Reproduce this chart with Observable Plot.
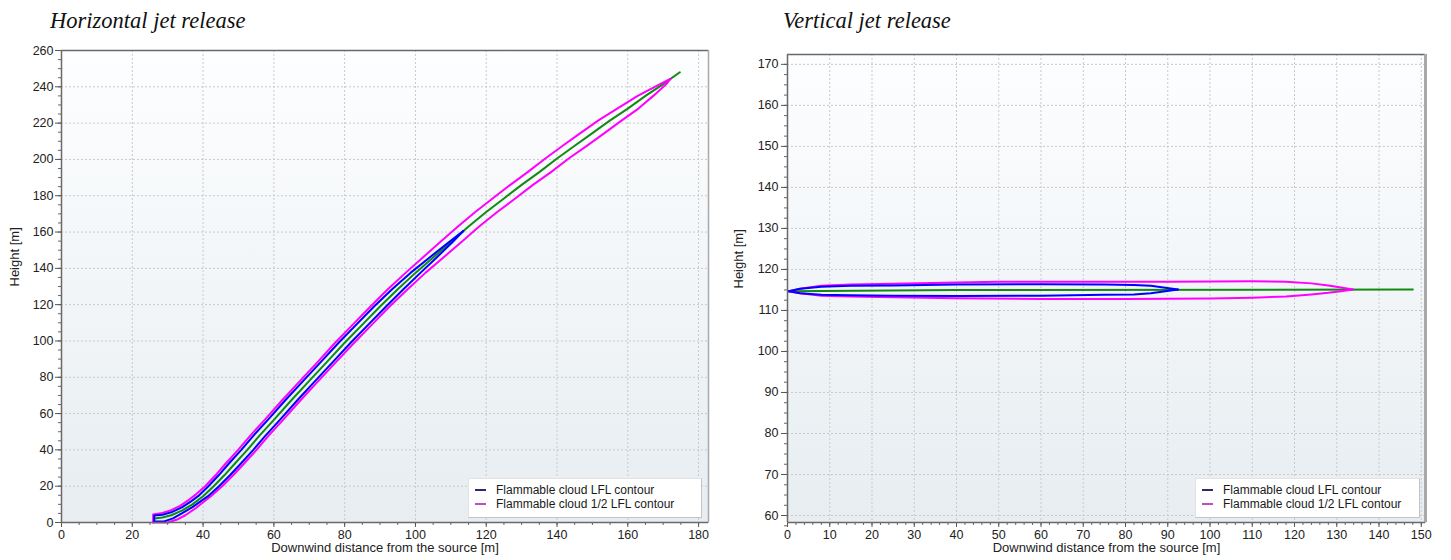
<!DOCTYPE html>
<html><head><meta charset="utf-8">
<script src="https://cdn.jsdelivr.net/npm/d3@7"></script>
<script src="https://cdn.jsdelivr.net/npm/@observablehq/plot@0.6"></script>
<style>
html,body{margin:0;padding:0;background:#fff;}
#root{position:relative;width:1451px;height:560px;overflow:hidden;font-family:"Liberation Sans",Arial,sans-serif;}
.title{position:absolute;font-family:"Liberation Serif","Times New Roman",serif;font-style:italic;font-size:22.5px;line-height:22px;color:#111;white-space:nowrap;}
.chart{position:absolute;top:0;}
.legend{position:absolute;background:#fff;border:1px solid #e2e2e2;border-right-color:#c4c4c4;border-bottom-color:#c4c4c4;font-size:12px;color:#1a1a1a;box-sizing:border-box;padding:4px 0 0 6px;}
.legend .row{height:14px;line-height:14px;display:flex;align-items:center;white-space:nowrap;}
.legend .sw{display:inline-block;width:11px;height:2px;margin-right:10px;}
</style></head>
<body><div id="root"></div>
<script>
// ---------- titles / labels ----------
const titles = ["Horizontal jet release", "Vertical jet release"];
const xLabel = "Downwind distance from the source [m]";
const yLabel = "Height [m]";
const legendLabels = ["Flammable cloud LFL contour", "Flammable cloud 1/2 LFL contour"];

// ---------- ticks ----------
const hXTicks = [0,20,40,60,80,100,120,140,160,180];
const hYTicks = [0,20,40,60,80,100,120,140,160,180,200,220,240,260];
const hXMinor = d3.range(0, 181, 5);
const hYMinor = d3.range(0, 261, 5);
const vXTicks = [0,10,20,30,40,50,60,70,80,90,100,110,120,130,140,150];
const vYTicks = [60,70,80,90,100,110,120,130,140,150,160,170];
const vXMinor = d3.range(0, 151, 2);
const vYMinor = d3.range(57.5, 172.5, 2.5);

// ---------- horizontal jet release (left) ----------
const hGreen = [[26.3,2.2],[28.5,2.8],[31,4],[34,6.5],[37,10],[40,14.5],[43,20],[46,26],[49,32.5],[52.5,40],[56,48],[60,56.5],[65,67.5],[70,78],[75,88.5],[80,99],[85,109],[90,119],[95,128.5],[100,137.5],[105,146],[110,154.5],[115,163],[120,171],[125,178.5],[130,186],[135,193],[140,200.5],[145,207.5],[150,214.5],[155,221.5],[160,228],[165,235],[170,241.5],[174.7,248]];
const hPinkUpper = [[25.9,0],[25.9,4.4],[28.5,5.3],[31,6.8],[33.5,9.2],[36,12.5],[38,15.5],[40.6,20],[43.5,26],[46.4,32.5],[49.9,40],[53.4,48],[57.4,56.5],[62.4,67.5],[67.4,78],[72.4,88.5],[77.3,99],[82.3,109],[87.3,119],[92.2,128.5],[97.2,137.5],[102.1,146],[107,154.5],[112,163],[116.9,171],[121.8,178.5],[126.8,186],[131.7,193],[136.7,200.5],[141.6,207.5],[146.6,214.5],[151.7,221.5],[157,228],[162.8,235],[169.1,241.5],[172,244.3]];
const hPinkLower = [[25.9,0],[30,0],[32.5,1.5],[35,4],[38,8],[42.2,14.5],[45.4,20],[48.5,26],[51.6,32.5],[55.1,40],[58.6,48],[62.6,56.5],[67.6,67.5],[72.6,78],[77.6,88.5],[82.7,99],[87.7,109],[92.7,119],[97.8,128.5],[102.8,137.5],[107.9,146],[113,154.5],[118,163],[123.1,171],[128.2,178.5],[133.2,186],[138.3,193],[143.3,200.5],[148.4,207.5],[153.4,214.5],[158.3,221.5],[163,228],[167.2,235],[170.9,241.5],[172,244.3]];
const hBlueUpper = [[26.2,0.5],[26.2,3.8],[28.5,4.3],[31,5.6],[34,8.3],[36.5,11.5],[38.6,14.5],[41.5,20],[44.4,26],[47.3,32.5],[50.8,40],[54.3,48],[58.3,56.5],[63.3,67.5],[68.3,78],[73.3,88.5],[78.3,99],[83.3,109],[88.3,119],[93.4,128.5],[98.6,137.5],[104,146],[109.5,154.5],[113.5,160.5]];
const hBlueLower = [[26.2,0.5],[29,0.6],[31.5,2.3],[34,5],[37,8.5],[41.4,14.5],[44.5,20],[47.6,26],[50.7,32.5],[54.2,40],[57.7,48],[61.7,56.5],[66.7,67.5],[71.7,78],[76.7,88.5],[81.7,99],[86.7,109],[91.7,119],[96.6,128.5],[101.4,137.5],[106,146],[110.5,154.5],[113.5,160.5]];

// ---------- vertical jet release (right) ----------
const vGreen = [[0.3,114.7],[40,115],[148,115.1]];
const vPinkUpper = [[0.3,114.7],[3,115.3],[8,116],[15,116.3],[25,116.5],[40,116.8],[50,117],[70,117],[90,117],[110,117.1],[118,117],[124,116.6],[128,116.1],[131,115.6],[133.8,115.1]];
const vPinkLower = [[0.3,114.7],[3,114.2],[8,113.6],[15,113.4],[25,113.2],[40,113],[60,112.8],[80,112.8],[100,112.9],[110,113.1],[118,113.4],[124,113.9],[128,114.3],[131,114.7],[133.8,115.1]];
const vBlueUpper = [[0.3,114.7],[3,115.3],[8,115.8],[15,116],[25,116.1],[40,116.3],[60,116.4],[75,116.3],[82,116.2],[86,116],[89,115.6],[92.4,115.1]];
const vBlueLower = [[0.3,114.7],[3,114.2],[8,113.8],[15,113.7],[25,113.6],[40,113.5],[60,113.6],[75,113.8],[82,113.9],[86,114.2],[89,114.6],[92.4,115.1]];

const C = {pink:"#ff00ff", blue:"#0000ff", green:"#118a11", swLFL:"#2b2b6b", swHalf:"#c04ec0"};

function lineMark(data, stroke){
  return Plot.line(data, {x: d => d[0], y: d => d[1], stroke, strokeWidth: 2, strokeLinejoin:"round"});
}

function makeChart(cfg){
  const svg = Plot.plot({
    width: cfg.width, height: 560,
    marginTop: cfg.mt, marginBottom: 38, marginLeft: cfg.ml, marginRight: cfg.mr,
    style: {fontFamily: '"Liberation Sans", Arial, sans-serif', fontSize: "12px", color: "#222", background: "transparent", overflow:"visible"},
    x: {domain: cfg.xDomain},
    y: {domain: cfg.yDomain},
    marks: [
      Plot.gridX(cfg.xTicks, {stroke: "#c9c9c9", strokeOpacity: 1, strokeDasharray: "2,2"}),
      Plot.gridY(cfg.yTicks, {stroke: "#c9c9c9", strokeOpacity: 1, strokeDasharray: "2,2"}),
      Plot.axisX(cfg.xMinor, {tickSize: 3, tickFormat: () => "", stroke: "#666", label: null}),
      Plot.axisY(cfg.yMinor, {tickSize: 3, tickFormat: () => "", stroke: "#666", label: null}),
      Plot.axisX(cfg.xTicks, {tickSize: 5, tickPadding: 3, stroke: "#555", fill: "#222", fontSize: 12.5, label: null, tickFormat: d => String(d)}),
      Plot.axisY(cfg.yTicks, {tickSize: 6, tickPadding: cfg.ypad, stroke: "#555", fill: "#222", fontSize: 12.5, label: null, tickFormat: d => String(d)}),
      Plot.text([xLabel], {frameAnchor: "bottom", dy: 29, fill: "#222", fontSize: 13}),
      Plot.text([yLabel], {frameAnchor: "left", dx: cfg.ylabDx, rotate: -90, fill: "#222", fontSize: 13}),
      lineMark(cfg.green, C.green),
      lineMark(cfg.pinkU, C.pink), lineMark(cfg.pinkL, C.pink),
      lineMark(cfg.blueU, C.blue), lineMark(cfg.blueL, C.blue),
      Plot.frame({stroke: "#b8b8b8", strokeWidth: 1}),
      Plot.ruleY([cfg.yDomain[0]], {stroke: "#6a6a6a", strokeWidth: 1.5}),
      Plot.ruleY([cfg.yDomain[1]], {stroke: "#6a6a6a", strokeWidth: 1.5}),
      Plot.ruleX([cfg.xDomain[0]], {stroke: "#6a6a6a", strokeWidth: 1.5}),
      Plot.ruleX([cfg.xDomain[1]], {stroke: "#a9a9a9", strokeWidth: cfg.rightW})
    ]
  });
  const ns = "http://www.w3.org/2000/svg";
  const defs = document.createElementNS(ns, "defs");
  defs.innerHTML = `<linearGradient id="${cfg.id}" x1="0" y1="0" x2="0" y2="1"><stop offset="0" stop-color="#fdfeff"/><stop offset="1" stop-color="#e7edf1"/></linearGradient>`;
  const rect = document.createElementNS(ns, "rect");
  rect.setAttribute("x", cfg.ml); rect.setAttribute("y", cfg.mt);
  rect.setAttribute("width", cfg.width - cfg.ml - cfg.mr);
  rect.setAttribute("height", 560 - cfg.mt - 38);
  rect.setAttribute("fill", `url(#${cfg.id})`);
  svg.insertBefore(rect, svg.firstChild);
  svg.insertBefore(defs, svg.firstChild);
  svg.classList.add("chart");
  svg.style.left = cfg.left + "px";
  return svg;
}

const root = document.getElementById("root");

root.appendChild(makeChart({
  id: "bgL", left: 0, width: 725, ml: 61, mr: 17, mt: 50,
  xDomain: [0, 182.8], yDomain: [0, 260],
  xTicks: hXTicks, yTicks: hYTicks, xMinor: hXMinor, yMinor: hYMinor,
  ypad: 2, ylabDx: -47, rightW: 1.5,
  green: hGreen, pinkU: hPinkUpper, pinkL: hPinkLower, blueU: hBlueUpper, blueL: hBlueLower
}));

root.appendChild(makeChart({
  id: "bgR", left: 725, width: 726, ml: 62, mr: 26, mt: 54,
  xDomain: [0, 151], yDomain: [58.3, 172.4],
  xTicks: vXTicks, yTicks: vYTicks, xMinor: vXMinor, yMinor: vYMinor,
  ypad: 3, ylabDx: -49, rightW: 3,
  green: vGreen, pinkU: vPinkUpper, pinkL: vPinkLower, blueU: vBlueUpper, blueL: vBlueLower
}));

function addTitle(text, x){
  const d = document.createElement("div");
  d.className = "title"; d.textContent = text;
  d.style.left = x + "px"; d.style.top = "10px";
  root.appendChild(d);
}
addTitle(titles[0], 50);
addTitle(titles[1], 783);

function addLegend(x, y, w){
  const box = document.createElement("div");
  box.className = "legend";
  box.style.left = x + "px"; box.style.top = y + "px";
  box.style.width = w + "px"; box.style.height = "40px";
  [[legendLabels[0], C.swLFL], [legendLabels[1], C.swHalf]].forEach(([t, c]) => {
    const r = document.createElement("div"); r.className = "row";
    const s = document.createElement("span"); s.className = "sw"; s.style.background = c;
    r.appendChild(s); r.appendChild(document.createTextNode(t));
    box.appendChild(r);
  });
  root.appendChild(box);
}
addLegend(468, 478, 234);
addLegend(1195, 478, 225);
</script>
</body></html>
